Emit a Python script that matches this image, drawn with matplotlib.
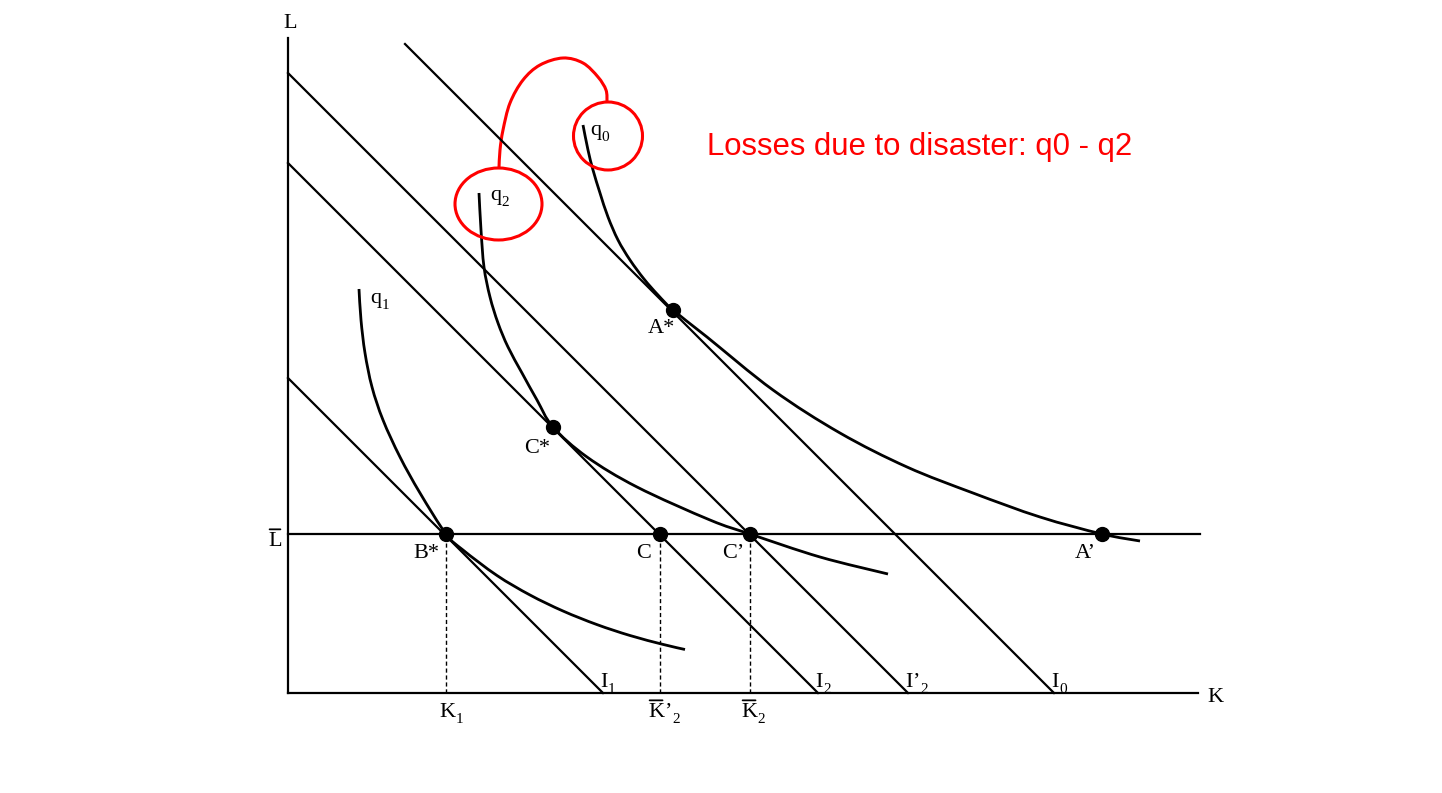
import matplotlib
matplotlib.use("Agg")
import matplotlib.pyplot as plt
from matplotlib.patches import Ellipse, PathPatch
from matplotlib.path import Path

# ---- diagram values (K on the x axis, L on the y axis) ----
k_axis_end = 9.10
l_axis_end = 6.55
l_bar = 1.59
l_bar_end = 9.12

# isocost lines K + L = budget
iso_main = ['I', 'I', 'I', 'I']
iso_prime = [False, False, True, False]
iso_sub = ['1', '2', '2', '0']
iso_budget = [3.15, 5.30, 6.20, 7.66]
iso_k_start = [0.0, 0.0, 0.0, 1.17]

# isoquants
q1_k = [0.71, 0.73, 0.77, 0.84, 0.95, 1.12, 1.32, 1.58, 1.75, 2.09, 2.42, 2.75, 3.09, 3.42, 3.75, 3.97]
q1_l = [4.04, 3.73, 3.40, 3.06, 2.73, 2.36, 2.00, 1.59, 1.43, 1.175, 0.98, 0.82, 0.684, 0.575, 0.486, 0.435]
q2_k = [1.91, 1.93, 1.96, 2.02, 2.10, 2.20, 2.34, 2.49, 2.65, 2.99, 3.49, 4.22, 4.62, 5.32, 6.00]
q2_l = [5.00, 4.63, 4.26, 3.96, 3.70, 3.46, 3.20, 2.93, 2.66, 2.36, 2.06, 1.73, 1.59, 1.36, 1.19]
q0_k = [2.95, 3.00, 3.05, 3.12, 3.20, 3.30, 3.42, 3.56, 3.70, 3.85, 4.19, 4.85, 5.52, 6.19, 6.85, 7.52, 8.14, 8.52]
q0_l = [5.68, 5.43, 5.23, 5.00, 4.76, 4.53, 4.33, 4.14, 3.98, 3.83, 3.56, 3.03, 2.60, 2.26, 2.00, 1.76, 1.59, 1.52]
q_names = ['1', '2', '0']
q_label_k = [0.82, 2.02, 3.02]
q_label_l = [3.90, 4.93, 5.58]

# marked points
dot_names = ['A*', 'C*', 'B*', 'C', 'C’', 'A’']
dot_k = [3.85, 2.65, 1.58, 3.72, 4.62, 8.14]
dot_l = [3.83, 2.66, 1.59, 1.59, 1.59, 1.59]
dot_label_k = [3.73, 2.49, 1.38, 3.56, 4.45, 7.97]
dot_label_l = [3.60, 2.40, 1.35, 1.35, 1.35, 1.35]

# capital levels on the K axis
k_marks = [1.58, 3.72, 4.62]
k_mark_bar = [False, True, True]
k_mark_prime = [False, True, False]
k_mark_sub = ['1', '2', '2']
k_mark_label_k = [1.51, 3.60, 4.53]

# red annotation
arc_k = [2.11, 2.12, 2.15, 2.22, 2.35, 2.52, 2.75, 2.95, 3.10, 3.18, 3.19]
arc_l = [5.25, 5.43, 5.63, 5.90, 6.13, 6.28, 6.35, 6.30, 6.16, 6.03, 5.91]
note = 'Losses due to disaster: q0 - q2'

serif = ['Liberation Serif', 'DejaVu Serif']

fig = plt.figure(figsize=(14.42, 7.93), dpi=100)
ax = fig.add_axes([0, 0, 1, 1])
ax.set_xlim(-2.88, 11.54)
ax.set_ylim(-1.00, 6.93)
ax.axis('off')


def smooth(xs, ys, **kw):
    # smooth curve through the read points (Catmull-Rom drawn as Bezier pieces)
    pts = list(zip(xs, ys))
    verts = [pts[0]]
    codes = [Path.MOVETO]
    for i in range(len(pts) - 1):
        p0 = pts[max(i - 1, 0)]
        p1 = pts[i]
        p2 = pts[i + 1]
        p3 = pts[min(i + 2, len(pts) - 1)]
        c1 = (p1[0] + (p2[0] - p0[0]) / 6, p1[1] + (p2[1] - p0[1]) / 6)
        c2 = (p2[0] - (p3[0] - p1[0]) / 6, p2[1] - (p3[1] - p1[1]) / 6)
        verts += [c1, c2, p2]
        codes += [Path.CURVE4] * 3
    ax.add_patch(PathPatch(Path(verts, codes), fill=False, **kw))


def label(x, y, main, sub=None, ha='left', bar=False, prime=False):
    t = ax.text(x, y, main, fontsize=16, family=serif, ha=ha, va='baseline')
    if bar:
        ax.annotate('', xy=(0.9, 1.14), xycoords=t, xytext=(0.1, 1.14), textcoords=t,
                    arrowprops=dict(arrowstyle='-', lw=1.3, shrinkA=0, shrinkB=0))
    anchor = t
    if prime:
        anchor = ax.annotate('’', xy=(1, 0), xycoords=t, fontsize=16, family=serif,
                             ha='left', va='bottom')
    if sub:
        ax.annotate(sub, xy=(1, 0), xycoords=anchor, xytext=(0.5, -0.8),
                    textcoords='offset points', fontsize=11, family=serif,
                    ha='left', va='baseline')


lw = 1.6
# axes
ax.plot([0, 0], [0, l_axis_end], color='black', lw=lw)
ax.plot([0, k_axis_end], [0, 0], color='black', lw=lw)
ax.plot([0, l_bar_end], [l_bar, l_bar], color='black', lw=lw)

# isocost lines
for m, p, s, b, k0 in zip(iso_main, iso_prime, iso_sub, iso_budget, iso_k_start):
    ax.plot([k0, b], [b - k0, 0], color='black', lw=lw)
    label(b - 0.03, 0.06, m, s, prime=p)

# isoquants
for qk, ql in [(q1_k, q1_l), (q2_k, q2_l), (q0_k, q0_l)]:
    smooth(qk, ql, edgecolor='black', lw=2.0)
for s, tk, tl in zip(q_names, q_label_k, q_label_l):
    label(tk, tl, 'q', s)

# dashed drops to the K axis
for k, bar, p, s, lk in zip(k_marks, k_mark_bar, k_mark_prime, k_mark_sub, k_mark_label_k):
    ax.plot([k, k], [0, l_bar], color='black', lw=1.0, ls=(0, (3, 2)))
    label(lk, -0.24, 'K', s, bar=bar, prime=p)

# points
ax.plot(dot_k, dot_l, 'o', color='black', markersize=10, zorder=5)
for name, tk, tl in zip(dot_names, dot_label_k, dot_label_l):
    label(tk, tl, name, ha='center')

# axis names
label(0.02, 6.65, 'L', ha='center')
label(9.27, -0.09, 'K', ha='center')
label(-0.13, 1.47, 'L', ha='center', bar=True)

# red annotation
red = '#ff0000'
ax.add_patch(Ellipse((3.20, 5.57), 0.69, 0.68, fill=False, edgecolor=red, lw=2.2))
ax.add_patch(Ellipse((2.105, 4.89), 0.87, 0.72, fill=False, edgecolor=red, lw=2.2))
smooth(arc_k, arc_l, edgecolor=red, lw=2.2)
ax.text(4.19, 5.38, note, fontsize=22.4, family='Liberation Sans', color=red,
        ha='left', va='baseline')

fig.savefig('out.png', dpi=100)
